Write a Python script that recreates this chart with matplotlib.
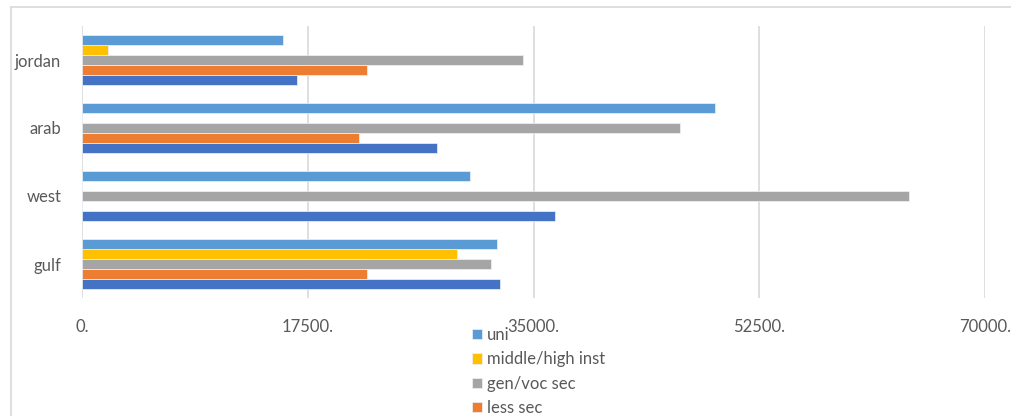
import numpy as np
import matplotlib.pyplot as plt
from matplotlib.lines import Line2D

plt.rcParams["font.family"] = ["Lato", "DejaVu Sans"]

# regions, bottom to top as drawn
regions = ["gulf", "west", "arab", "jordan"]

# series in drawing order (first one sits lowest in each group)
series_names = ["illiterate", "less sec", "gen/voc sec", "middle/high inst", "uni"]
illiterate = [32400, 36650, 27500, 16700]
less_sec = [22100, 0, 21500, 22100]
gen_voc_sec = [31700, 64100, 46350, 34150]
middle_high = [29050, 0, 0, 2000]
uni = [32200, 30100, 49050, 15600]
series_values = [illiterate, less_sec, gen_voc_sec, middle_high, uni]
colors = ["#4472C4", "#ED7D31", "#A5A5A5", "#FFC000", "#5B9BD5"]

xticks = [0, 17500, 35000, 52500, 70000]

W, H = 1011, 416
fig = plt.figure(figsize=(W / 100, H / 100), dpi=100)
ax = fig.add_axes([82 / W, 1 - 298 / H, (985 - 82) / W, (298 - 26) / H])

# chart-area border (left and top visible)
fig.add_artist(Line2D([11 / W, 11 / W], [0, 1 - 7 / H], color="#D9D9D9", lw=1.2))
fig.add_artist(Line2D([11 / W, 1], [1 - 7 / H, 1 - 7 / H], color="#D9D9D9", lw=1.2))

y = np.arange(len(regions))
h = 10 / 68
bars = []
for i, (vals, c) in enumerate(zip(series_values, colors)):
    b = ax.barh(y + (i - 2) * h, vals, height=h, color=c,
                edgecolor="#EEF3FA", linewidth=0.5, zorder=3)
    bars.append(b)

ax.set_xlim(0, 70000)
ax.set_ylim(-0.5, 3.5)
ax.set_xticks(xticks)
ax.set_xticklabels([f"{v}." for v in xticks])
ax.set_yticks(y)
ax.set_yticklabels(regions)
ax.tick_params(axis="both", length=0, labelsize=12, colors="#595959")
ax.tick_params(axis="x", pad=15)
ax.tick_params(axis="y", pad=15)
ax.grid(axis="x", color="#D9D9D9", linewidth=1.2, zorder=0)
for s in ax.spines.values():
    s.set_visible(False)

# legend in visual top-to-bottom order
fig.legend([bars[i] for i in range(4, -1, -1)],
           [series_names[i] for i in range(4, -1, -1)],
           loc="upper left", bbox_to_anchor=(472 / W, 1 - 327 / H),
           frameon=False, fontsize=12, labelcolor="#595959",
           handlelength=0.6, handleheight=0.6, handletextpad=0.3,
           labelspacing=0.5, borderpad=0, borderaxespad=0)

fig.savefig("out.png", dpi=100)
